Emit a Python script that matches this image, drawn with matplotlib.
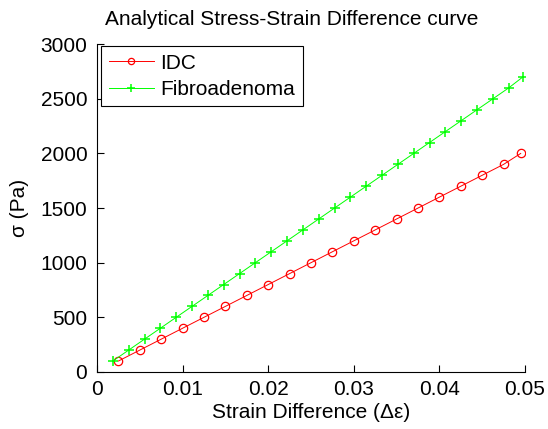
import numpy as np
import matplotlib
matplotlib.use("Agg")
import matplotlib.pyplot as plt

plt.rcParams['font.family'] = ['Liberation Sans', 'DejaVu Sans']

# stress values (Pa)
idc_stress = [100, 200, 300, 400, 500, 600, 700, 800, 900, 1000,
              1100, 1200, 1300, 1400, 1500, 1600, 1700, 1800, 1900, 2000]
idc_strain = [0.0025, 0.005, 0.0075, 0.01, 0.0125, 0.015, 0.0175, 0.02, 0.0225, 0.025,
              0.0275, 0.03, 0.0325, 0.035, 0.0375, 0.04, 0.0425, 0.045, 0.0475, 0.0495]

fib_stress = [100, 200, 300, 400, 500, 600, 700, 800, 900, 1000,
              1100, 1200, 1300, 1400, 1500, 1600, 1700, 1800, 1900, 2000,
              2100, 2200, 2300, 2400, 2500, 2600, 2700]
fib_strain = [0.00185, 0.0037, 0.00555, 0.0074, 0.00925, 0.0111, 0.01295, 0.0148, 0.01665, 0.0185,
              0.02035, 0.0222, 0.02405, 0.0259, 0.02775, 0.0296, 0.03145, 0.0333, 0.03515, 0.037,
              0.03885, 0.0407, 0.04255, 0.0444, 0.04625, 0.0481, 0.04975]

fs = 15

fig = plt.figure(figsize=(5.48, 4.29), dpi=100)
ax = fig.add_axes([0.177, 0.133, 0.781, 0.764])

ax.plot(idc_strain, idc_stress, color='red', marker='o', markersize=6,
        markerfacecolor='none', markeredgewidth=0.9, linewidth=0.7, label='IDC')
ax.plot(fib_strain, fib_stress, color='#00ff00', marker='+', markersize=7,
        markeredgewidth=1.1, linewidth=0.7, label='Fibroadenoma')

ax.set_xlim(0, 0.05)
ax.set_ylim(0, 3000)
ax.set_xticks([0, 0.01, 0.02, 0.03, 0.04, 0.05])
ax.set_xticklabels(['0', '0.01', '0.02', '0.03', '0.04', '0.05'])
ax.set_yticks(np.arange(0, 3001, 500))
ax.spines['top'].set_visible(False)
ax.spines['right'].set_visible(False)
ax.tick_params(direction='in', labelsize=fs, length=5)
ax.tick_params(axis='x', pad=6)
ax.tick_params(axis='y', pad=7)

ax.set_xlabel('Strain Difference (\u0394\u03b5)', fontsize=fs, labelpad=3)
ax.set_ylabel('\u03c3 (Pa)', fontsize=fs, labelpad=8)
ax.set_title('Analytical Stress-Strain Difference curve', fontsize=fs, pad=14, x=0.456)

leg = ax.legend(loc='upper left', fontsize=fs, fancybox=False, framealpha=1,
                handlelength=2.2, handletextpad=0.3, borderpad=0.35,
                labelspacing=0.35, markerscale=0.75,
                borderaxespad=0.1, bbox_to_anchor=(0.005, 1.0))
leg.get_frame().set_edgecolor('black')
leg.get_frame().set_linewidth(0.8)

plt.savefig('out.png', dpi=100)
